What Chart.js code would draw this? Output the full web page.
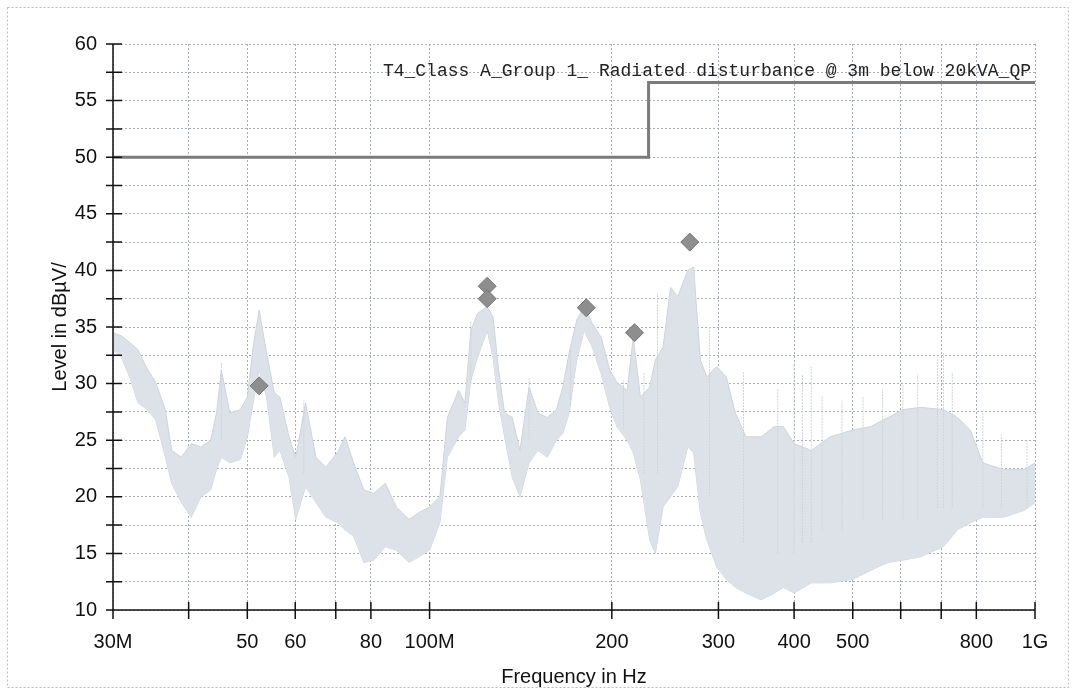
<!DOCTYPE html>
<html>
<head>
<meta charset="utf-8">
<script src="https://cdn.jsdelivr.net/npm/chart.js@4.4.1/dist/chart.umd.min.js"></script>
<style>
html,body{margin:0;padding:0;background:#fff;}
#c{display:block;}
</style>
</head>
<body>
<canvas id="c" width="1073" height="690"></canvas>
<script>
// scan trace envelope (MHz, dBuV)
const traceFreq=[30,31,32,33,34,35.3,36.6,37.5,38.9,40.4,41.9,43.5,44.5,45.3,46.8,48.7,50,51.2,52.3,53.8,55.4,56.6,58.6,60.1,62.4,64.9,67.4,70.6,72.5,74.9,77.9,80.9,84.5,88.1,92.5,96,100,104,107,111.7,114.4,117,120,124.5,127.3,130,133,137,141,146,151,156.6,162,166,170,175,180,185.7,192,198.4,204,212,217,223,231,236,243,250,257,267,273,280,287,298,309,320,333,353,371,384,400,427,459,500,535,572,605,647,706,745,782,820,887,960,1000];
const traceUpper=[34.5,34.2,33.6,33.0,31.5,30.1,27.7,24.1,23.5,24.7,24.4,25.0,27.5,31.2,27.4,27.7,28.8,33.5,36.5,32.7,29.2,28.8,25.3,23.5,28.3,23.5,22.6,24.0,25.3,23.0,20.6,20.3,21.2,19.1,18.0,18.6,19.1,20.0,27.0,29.4,28.3,34.7,36.2,36.8,35.9,31.2,27.4,27.0,24.1,29.7,27.4,27.0,27.7,29.7,32.7,35.6,36.8,35.3,34.1,31.2,30.1,29.4,34.1,28.8,29.7,32.1,33.2,38.5,37.7,40.0,40.3,32.1,30.6,31.5,30.6,27.4,25.3,25.3,26.2,26.2,24.7,24.1,25.3,25.9,26.2,27.0,27.7,27.9,27.7,27.0,25.9,23.0,22.4,22.4,23.0];
const traceLower=[33.0,32.3,30.5,28.3,27.8,26.8,23.5,21.2,19.5,18.2,20.0,20.6,22.5,23.5,23.0,23.3,25.3,28.5,31.2,28.8,23.5,24.1,21.7,18.0,20.9,19.5,18.2,17.7,17.1,16.5,14.2,14.4,15.6,15.3,14.2,14.7,15.3,17.7,23.5,25.3,25.9,30.3,32.3,34.7,32.3,28.3,25.3,21.7,20.0,23.0,24.1,23.5,25.0,25.6,27.4,32.1,34.7,33.2,30.9,27.9,26.2,25.0,23.9,21.5,16.2,15.0,19.1,20.0,20.9,24.4,23.9,18.6,16.2,13.8,12.7,12.0,11.5,10.9,11.5,12.0,11.5,12.4,12.4,12.7,13.5,14.2,14.4,14.7,15.6,17.1,17.7,18.2,18.2,18.8,19.5];

// single spikes sticking out of the band
const spikeFreq=[45.3,62,117,146,171,209,226,238,290,330,376,400,413,427,445,480,520,560,605,640,690,706,730,820,880,970];
const spikeTop=[31.8,28.5,35.5,30.5,33.0,30.3,31.0,38.0,35.0,31.0,29.5,31.8,30.8,31.5,29.0,28.5,28.8,29.5,30.1,30.8,32.3,32.7,31.0,27.7,25.5,25.0];
const spikeBottom=[25.0,22.0,30.0,25.0,28.0,26.0,22.0,22.0,20.0,16.0,15.0,15.0,16.0,16.0,17.0,17.0,18.0,18.0,18.0,18.0,19.0,19.0,19.0,19.0,19.0,19.0];

// limit line
const limitFreq=[30,230,230,1000];
const limitLevel=[50,50,56.6,56.6];

// QP markers
const markerFreq=[52.3,124.5,124.5,181.5,218,269];
const markerLevel=[29.8,38.6,37.5,36.7,34.5,42.5];

const xTicks=[30,40,50,60,70,80,100,200,300,400,500,600,700,800,1000];
const xTickLabels=["30M","","50","60","","80","100M","200","300","400","500","","","800","1G"];

const chartTitle="T4_Class A_Group 1_ Radiated disturbance @ 3m below 20kVA_QP";

const pts=(xs,ys)=>xs.map((x,i)=>({x:x,y:ys[i]}));

let spikePts=[];
spikeFreq.forEach((f,i)=>{
spikePts.push({x:f,y:spikeBottom[i]},{x:f,y:spikeTop[i]},{x:f,y:null});
});

const frame={
id:"frame",
beforeDraw(chart){
const c=chart.ctx;
c.save();
c.fillStyle="#fff";
c.fillRect(0,0,chart.width,chart.height);
c.strokeStyle="#bbb";
c.setLineDash([2,2]);
c.lineWidth=1;
c.strokeRect(7.5,7.5,1061,680);
c.restore();
},
afterDraw(chart){
const c=chart.ctx,a=chart.chartArea;
const xs=chart.scales.x,ys=chart.scales.y;
c.save();
c.strokeStyle="#111";
c.lineWidth=1.5;
c.beginPath();
c.moveTo(a.left,a.top);c.lineTo(a.left,a.bottom);
c.lineTo(a.right,a.bottom);
xTicks.forEach(v=>{
let px=xs.getPixelForValue(v);
c.moveTo(px,a.bottom-8);c.lineTo(px,a.bottom+9);
});
for(let v=10;v<=60;v+=2.5){
let py=ys.getPixelForValue(v);
c.moveTo(a.left-7,py);c.lineTo(a.left+9,py);
}
c.stroke();
c.fillStyle="#222";
c.font="18px 'Liberation Mono'";
c.textAlign="right";
c.textBaseline="alphabetic";
c.fillText(chartTitle,a.right-4,76);
c.restore();
}
};

new Chart(document.getElementById("c"),{
type:"scatter",
data:{
datasets:[
{label:"QP",data:pts(markerFreq,markerLevel),pointStyle:"rectRot",pointRadius:9,
backgroundColor:"#8e8e8e",borderColor:"#777",borderWidth:1,showLine:false,order:0},
{label:"Limit",data:pts(limitFreq,limitLevel),showLine:true,borderColor:"#7b7b7b",borderWidth:3,
pointRadius:0,order:1},
{label:"spikes",data:spikePts,showLine:true,spanGaps:false,borderColor:"#cdd3da",borderWidth:1,
borderDash:[2,1],pointRadius:0,order:2},
{label:"upper",data:pts(traceFreq,traceUpper),showLine:true,borderColor:"#cfd5dc",borderWidth:1,
backgroundColor:"#dde2e8",fill:4,pointRadius:0,order:3},
{label:"lower",data:pts(traceFreq,traceLower),showLine:true,borderColor:"#cfd5dc",borderWidth:1,
pointRadius:0,order:4}
]
},
options:{
responsive:false,
animation:false,
devicePixelRatio:1,
layout:{padding:{left:44,top:44,right:38,bottom:0}},
plugins:{legend:{display:false},tooltip:{enabled:false}},
scales:{
x:{
type:"logarithmic",min:30,max:1000,offset:false,
afterBuildTicks(s){s.ticks=xTicks.map(v=>({value:v}));},
afterFit(s){s.height=80;},
ticks:{autoSkip:false,maxRotation:0,padding:20,color:"#111",
font:{family:"'Liberation Sans', Arial",size:20},
callback:(v,i)=>xTickLabels[i]},
grid:{drawTicks:false,color:"#a9afb6",lineWidth:1,tickBorderDash:[2,2]},
border:{display:false,dash:[2,2]},
title:{display:true,text:"Frequency in Hz",color:"#111",padding:{top:0,bottom:1},
font:{family:"'Liberation Sans', Arial",size:20}}
},
y:{
min:10,max:60,
afterFit(s){s.width=69;},
ticks:{stepSize:2.5,padding:16,color:"#111",
font:{family:"'Liberation Sans', Arial",size:20},
callback:v=>v%5===0?v:""},
grid:{drawTicks:false,color:"#a9afb6",lineWidth:1},
border:{display:false,dash:[2,2]},
title:{display:true,text:"Level in dBµV/",color:"#111",padding:{top:4,bottom:0},
font:{family:"'Liberation Sans', Arial",size:20}}
}
}
},
plugins:[frame]
});
</script>
</body>
</html>
